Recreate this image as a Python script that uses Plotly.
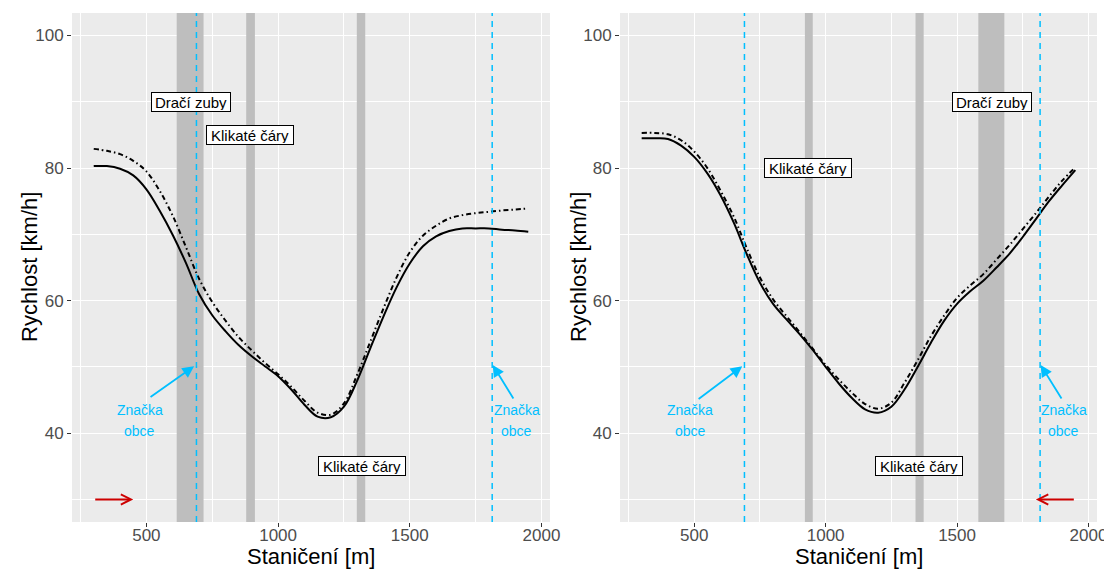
import plotly.graph_objects as go

# Stationing along the section [m]
stationing = [300, 350, 400, 450, 500, 550, 600, 650, 700, 750, 800, 850, 900, 950,
              1000, 1050, 1100, 1150, 1200, 1250, 1300, 1350, 1400, 1450, 1500, 1550,
              1600, 1650, 1700, 1750, 1800, 1850, 1900, 1950]

# Direction 1 (left panel) speeds [km/h]
left_solid = [80.3, 80.3, 79.9, 78.9, 76.8, 73.6, 69.9, 65.7, 61.0, 57.8, 55.4, 53.3,
              51.6, 50.1, 48.6, 46.6, 44.3, 42.5, 42.4, 44.0, 47.9, 52.8, 57.6, 62.0,
              65.6, 68.2, 69.7, 70.5, 70.9, 70.9, 70.9, 70.7, 70.6, 70.4]
left_dashdot = [82.9, 82.6, 82.1, 81.1, 79.5, 76.6, 72.8, 68.1, 63.3, 59.8, 57.0, 54.5,
                52.5, 50.6, 48.9, 47.0, 44.9, 43.1, 42.8, 44.5, 48.8, 53.8, 58.8, 63.5,
                67.3, 69.8, 71.3, 72.4, 72.9, 73.2, 73.4, 73.6, 73.75, 73.9]

# Direction 2 (right panel) speeds [km/h]
right_solid = [84.5, 84.5, 84.4, 83.4, 81.7, 79.2, 75.9, 71.8, 67.0, 62.7, 59.5, 57.2,
               55.0, 52.6, 50.0, 47.5, 45.3, 43.6, 43.1, 44.0, 46.6, 50.0, 53.6, 56.9,
               59.5, 61.4, 63.0, 65.0, 67.1, 69.6, 72.3, 75.0, 77.4, 79.7]
right_dashdot = [85.3, 85.3, 85.1, 84.2, 82.5, 80.0, 76.6, 72.7, 67.9, 63.5, 60.2, 57.7,
                 55.3, 52.8, 50.3, 48.1, 46.1, 44.4, 43.7, 44.6, 47.6, 51.0, 54.6, 57.7,
                 60.4, 62.3, 64.0, 66.2, 68.4, 70.8, 73.2, 75.7, 78.1, 80.1]

# Measures zones (start, end) [m]
left_zones = [(615, 717), (879, 912), (1299, 1331)]
right_zones = [(921, 951), (1342, 1373), (1581, 1680)]

# Village sign positions [m]
left_signs = [690, 1813]
right_signs = [691, 1816]

# Zone labels (text, x, y)
left_labels = [("Dračí zuby", 670, 90), ("Klikaté čáry", 895, 85), ("Klikaté čáry", 1317, 35)]
right_labels = [("Klikaté čáry", 934, 80), ("Klikaté čáry", 1356, 35), ("Dračí zuby", 1634, 90)]

# Sign callouts: text x, arrow tail (x, y), arrow tip (x, y)
left_callouts = [(474, (510, 45.3), (681, 50.1)), (1906, (1897, 45.0), (1815, 50.3))]
right_callouts = [(485, (511, 45.0), (683, 50.1)), (1906, (1901, 45.0), (1818, 50.3))]

# Direction of travel arrows (from, to) at speed 30
left_direction = (300, 450)
right_direction = (1950, 1800)

X_RANGE = [217.5, 2032.5]
Y_RANGE = [26.6, 103.4]

FONT = "Liberation Sans, Arial, sans-serif"
BLUE = "#00BFFF"
RED = "#CD0000"
BAND = "#BEBEBE"

fig = go.Figure()

panels = [
    ("x", "y", left_solid, left_dashdot, left_zones, left_signs, left_labels, left_callouts, left_direction),
    ("x2", "y2", right_solid, right_dashdot, right_zones, right_signs, right_labels, right_callouts, right_direction),
]

shapes = []
annotations = []

for xa, ya, solid, dashdot, zones, signs, labels, callouts, direction in panels:
    # zone bands as filled traces so they sit above the grid
    for x0, x1 in zones:
        fig.add_trace(go.Scatter(x=[x0, x1, x1, x0, x0],
                                 y=[Y_RANGE[0], Y_RANGE[0], Y_RANGE[1], Y_RANGE[1], Y_RANGE[0]],
                                 xaxis=xa, yaxis=ya, mode="lines", fill="toself",
                                 fillcolor=BAND, line=dict(width=0, color=BAND),
                                 showlegend=False, hoverinfo="skip"))
    fig.add_trace(go.Scatter(x=stationing, y=dashdot, xaxis=xa, yaxis=ya, mode="lines",
                             line=dict(color="black", width=2, dash="5px,3px,1.5px,3px", shape="spline"),
                             showlegend=False, hoverinfo="skip"))
    fig.add_trace(go.Scatter(x=stationing, y=solid, xaxis=xa, yaxis=ya, mode="lines",
                             line=dict(color="black", width=2, shape="spline"),
                             showlegend=False, hoverinfo="skip"))
    for s in signs:
        shapes.append(dict(type="line", xref=xa, yref=f"{ya} domain", x0=s, x1=s, y0=0, y1=1,
                           line=dict(color=BLUE, width=1.5, dash="6px,5px"), layer="above"))
    for text, lx, ly in labels:
        annotations.append(dict(xref=xa, yref=ya, x=lx, y=ly, text=text, showarrow=False,
                                font=dict(family=FONT, size=15, color="black"),
                                width=(76 if text.startswith("D") else 84), height=16,
                                bgcolor="white", bordercolor="black", borderwidth=1, borderpad=1))
    for tx, (ax0, ay0), (ax1, ay1) in callouts:
        annotations.append(dict(xref=xa, yref=ya, axref=xa, ayref=ya, x=ax1, y=ay1, ax=ax0, ay=ay0,
                                text="", showarrow=True, arrowhead=2, arrowsize=1.3, arrowwidth=1.8,
                                arrowcolor=BLUE, standoff=0, startstandoff=0))
        annotations.append(dict(xref=xa, yref=ya, x=tx, y=43.5, text="Značka", showarrow=False,
                                font=dict(family=FONT, size=14, color=BLUE)))
        annotations.append(dict(xref=xa, yref=ya, x=tx, y=40.3, text="obce", showarrow=False,
                                font=dict(family=FONT, size=14, color=BLUE)))
    annotations.append(dict(xref=xa, yref=ya, axref=xa, ayref=ya, x=direction[1], y=30,
                            ax=direction[0], ay=30, text="", showarrow=True, arrowhead=5,
                            arrowsize=1, arrowwidth=2, arrowcolor=RED, standoff=0))

# Axis titles
for cx in [311 / 1104, 859 / 1104]:
    annotations.append(dict(xref="paper", yref="paper", x=cx, y=1 - 556 / 569, yanchor="middle",
                            xanchor="center", text="Staničení [m]", showarrow=False,
                            font=dict(family=FONT, size=22, color="black")))
for cx in [29 / 1104, 578 / 1104]:
    annotations.append(dict(xref="paper", yref="paper", x=cx, y=1 - 267 / 569, text="Rychlost [km/h]",
                            xanchor="center", yanchor="middle",
                            textangle=-90, showarrow=False,
                            font=dict(family=FONT, size=22, color="black")))

xcommon = dict(range=X_RANGE, tickvals=[500, 1000, 1500, 2000],
               showgrid=True, gridcolor="white", gridwidth=1.3, zeroline=False,
               ticks="outside", ticklen=4, tickcolor="#333333", tickwidth=1,
               tickfont=dict(family=FONT, size=17, color="#4D4D4D"),
               minor=dict(tickvals=[250, 750, 1250, 1750], showgrid=True,
                          gridcolor="white", gridwidth=0.6, ticks=""),
               showline=False, ticklabelstandoff=-6, ticklabeloverflow="allow")
ycommon = dict(range=Y_RANGE, tickvals=[40, 60, 80, 100],
               showgrid=True, gridcolor="white", gridwidth=1.3, zeroline=False,
               ticks="outside", ticklen=4, tickcolor="#333333", tickwidth=1,
               tickfont=dict(family=FONT, size=17, color="#4D4D4D"),
               minor=dict(tickvals=[30, 50, 70, 90], showgrid=True,
                          gridcolor="white", gridwidth=0.6, ticks=""),
               showline=False)

ydom = [1 - 522 / 569, 1 - 13 / 569]
fig.update_layout(
    width=1104, height=569,
    margin=dict(l=0, r=0, t=0, b=0, autoexpand=False),
    paper_bgcolor="white", plot_bgcolor="#EBEBEB",
    xaxis=dict(domain=[72 / 1104, 550 / 1104], anchor="y", **xcommon),
    yaxis=dict(domain=ydom, anchor="x", **ycommon),
    xaxis2=dict(domain=[620 / 1104, 1097 / 1104], anchor="y2", **xcommon),
    yaxis2=dict(domain=ydom, anchor="x2", **ycommon),
    shapes=shapes, annotations=annotations,
    font=dict(family=FONT),
)

fig.write_html("out.html")
